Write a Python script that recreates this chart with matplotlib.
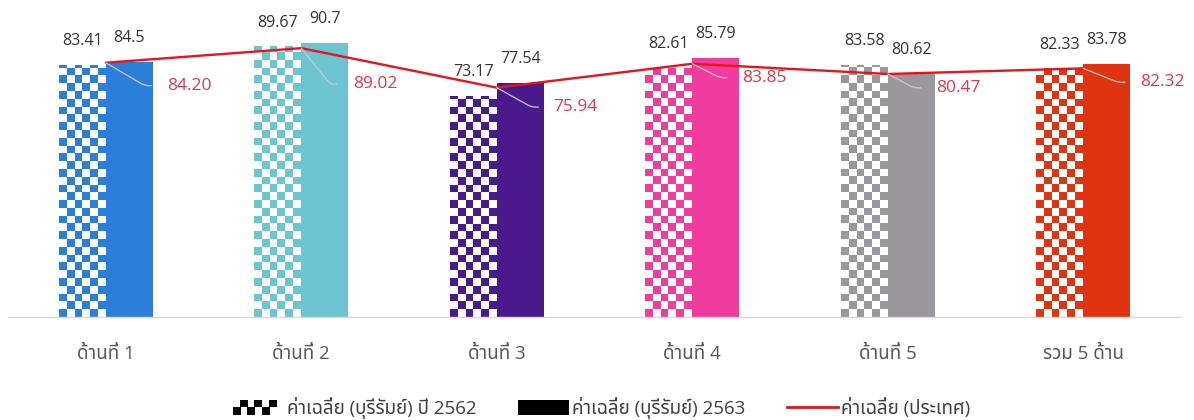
import numpy as np
import matplotlib
matplotlib.use('Agg')
import matplotlib.pyplot as plt
import matplotlib.colors as mcolors
from matplotlib import font_manager as fm
from matplotlib.ft2font import FT2Font
from matplotlib.patches import Rectangle
from matplotlib.lines import Line2D
from matplotlib.legend_handler import HandlerBase

# ---------------- data ----------------
categories = ['ด้านที่ 1', 'ด้านที่ 2', 'ด้านที่ 3', 'ด้านที่ 4', 'ด้านที่ 5', 'รวม 5 ด้าน']
buriram_2562 = [83.41, 89.67, 73.17, 82.61, 83.58, 82.33]
buriram_2563 = [84.5, 90.7, 77.54, 85.79, 80.62, 83.78]
national = [84.20, 89.02, 75.94, 83.85, 80.47, 82.32]
series_names = ['ค่าเฉลี่ย (บุรีรัมย์) ปี 2562', 'ค่าเฉลี่ย (บุรีรัมย์) 2563', 'ค่าเฉลี่ย (ประเทศ)']

# ---------------- style ----------------
bar_colors = ['#2b7fd8', '#6cc5d1', '#4a1a8c', '#f03c9e', '#9b989d', '#e0330f']
line_color = '#e8141c'
nat_label_color = '#e5364e'
nat_label_offsets = [(44, -16.5), (37, -26), (41, -14), (36, -10), (35, -10), (41, -10)]


def find_thai_font():
    preferred = ['Tahoma', 'Leelawadee UI', 'Leelawadee', 'Noto Sans Thai', 'Noto Sans Thai UI',
                 'Loma', 'Garuda', 'Sarabun', 'Waree', 'Umpush', 'Kinnari', 'Norasi', 'Tlwg Typo']
    avail = {}
    for f in fm.fontManager.ttflist:
        avail.setdefault(f.name, f.fname)
    for p in preferred:
        if p in avail:
            return p
    for name, path in avail.items():
        try:
            cmap = FT2Font(path).get_charmap()
        except Exception:
            continue
        if 0x0E14 in cmap and 0x0E49 in cmap and 0x0E35 in cmap:
            return name
    return None


thai = find_thai_font()
fams = ['Open Sans']
if thai:
    fams.append(thai)
fams.append('DejaVu Sans')
plt.rcParams['font.family'] = fams

fig = plt.figure(figsize=(11.94, 4.2), dpi=100)
ax = fig.add_axes([8 / 1194, 103 / 420, 1173 / 1194, 302 / 420])

x = np.arange(len(categories))
w = 0.24
ncols = 6
cell_h = 2.58


def checker_img(color, nrows, ncols):
    rgb = mcolors.to_rgb(color)
    img = np.ones((nrows, ncols, 3))
    for r in range(nrows):
        for c in range(ncols):
            if (r + c) % 2 == 0:
                img[r, c] = rgb
    return img


for i in range(len(categories)):
    col = bar_colors[i]
    b1 = ax.bar(x[i] - w / 2, buriram_2562[i], w, color='white', edgecolor='none', zorder=2)[0]
    nrows = int(np.ceil(buriram_2562[i] / cell_h)) + 1
    im = ax.imshow(checker_img(col, nrows, ncols), origin='lower', aspect='auto',
                   interpolation='nearest',
                   extent=(x[i] - w, x[i], 0, nrows * cell_h), zorder=2.5)
    im.set_clip_path(b1)
    ax.bar(x[i] + w / 2, buriram_2563[i], w, color=col, edgecolor='none', zorder=2)

    ax.annotate(f'{buriram_2562[i]:g}', xy=(x[i] - w / 2, buriram_2562[i]), xytext=(0, 17),
                textcoords='offset points', ha='center', va='center', fontsize=11.5, color='#333333')
    ax.annotate(f'{buriram_2563[i]:g}', xy=(x[i] + w / 2, buriram_2563[i]), xytext=(0, 17),
                textcoords='offset points', ha='center', va='center', fontsize=11.5, color='#333333')

ax.plot(x, national, color=line_color, lw=1.7, zorder=4, solid_capstyle='round')

for i, v in enumerate(national):
    tx, ty = nat_label_offsets[i]
    gap = 16
    ang = np.degrees(np.arctan2(ty, tx - gap))
    ax.annotate(f'{v:.2f}', xy=(x[i], v), xytext=(tx, ty), textcoords='offset points',
                ha='left', va='center', fontsize=12.5, color=nat_label_color, zorder=5,
                arrowprops=dict(arrowstyle='-', color='#c9c9c9', lw=0.9, shrinkA=9, shrinkB=0,
                                relpos=(0, 0.5),
                                connectionstyle=f'angle,angleA=180,angleB={ang:.2f},rad=4'))

ax.set_xlim(-0.5, len(categories) - 0.5)
ax.set_ylim(0, 100)
ax.set_xticks(x)
ax.set_xticklabels(categories, fontsize=13.5, color='#595959')
ax.tick_params(axis='x', length=0, pad=20)
ax.set_yticks([])
for s in ['left', 'right', 'top']:
    ax.spines[s].set_visible(False)
ax.spines['bottom'].set_color('#d9d9d9')
ax.spines['bottom'].set_linewidth(1.0)


class HandlerChecker(HandlerBase):
    def create_artists(self, legend, orig_handle, xdescent, ydescent, width, height, fontsize, trans):
        arts = []
        nc, nr = 6, 2
        cw = width * 0.85 / nc
        ch = height * 1.1 / nr
        y0 = -ydescent - height * 0.05
        for r in range(nr):
            for c in range(nc):
                if (r + c) % 2 == 0:
                    arts.append(Rectangle((-xdescent + c * cw, y0 + r * ch), cw * 1.1, ch,
                                          facecolor='black', edgecolor='none', transform=trans))
        return arts


class HandlerBox(HandlerBase):
    def create_artists(self, legend, orig_handle, xdescent, ydescent, width, height, fontsize, trans):
        return [Rectangle((-xdescent, -ydescent - height * 0.05), width, height * 1.1,
                          facecolor='black', edgecolor='none', transform=trans)]


h1 = Rectangle((0, 0), 1, 1, label=series_names[0])
h2 = Rectangle((0, 0), 1, 1, label=series_names[1])
h3 = Line2D([], [], color=line_color, lw=2, label=series_names[2])
leg = fig.legend(handles=[h1, h2, h3], labels=series_names, ncol=3, loc='center',
                 bbox_to_anchor=(0.504, 0.0286), frameon=False, fontsize=13.5,
                 handlelength=2.7, handletextpad=0.2, columnspacing=2.2,
                 handler_map={h1: HandlerChecker(), h2: HandlerBox()})
for t in leg.get_texts():
    t.set_color('#404040')

fig.savefig('out.png', dpi=100)
